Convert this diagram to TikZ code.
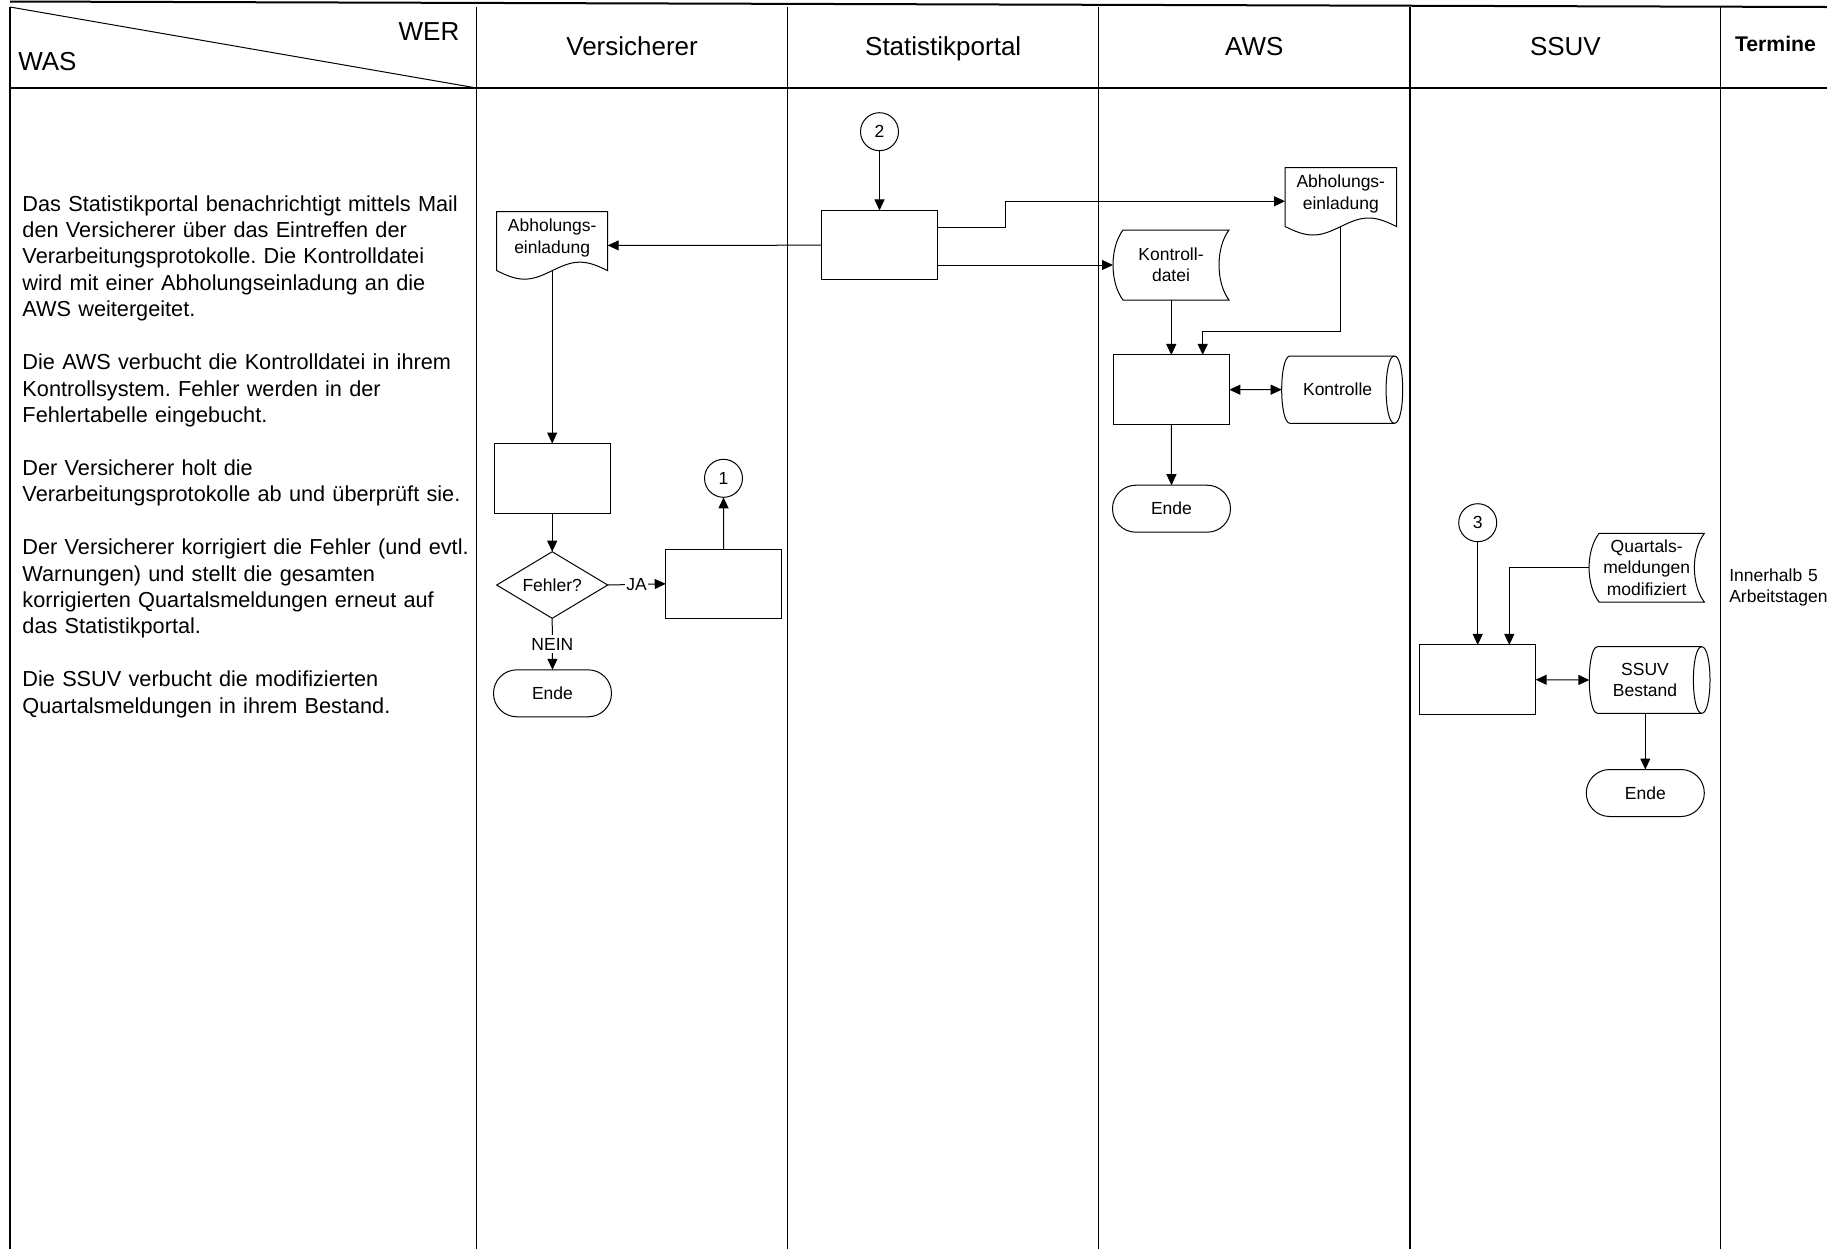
\documentclass[tikz,border=0pt]{standalone}
\usepackage{fontspec}
\setmainfont{Liberation Sans}
\usetikzlibrary{shapes.geometric,arrows.meta,calc}
\frenchspacing

\begin{document}
\begin{tikzpicture}[x=0.5pt,y=-0.5pt,
  every node/.style={inner sep=0pt, outer sep=0pt},
  small/.style={font=\fontsize{8.75}{10.7}\selectfont, align=center},
  head/.style={font=\fontsize{13}{15}\selectfont},
  body/.style={font=\fontsize{10.85}{13.2}\selectfont, text width=240pt, align=left},
  frame/.style={line width=0.6pt},
  edge/.style={draw, line width=0.5pt},
  proc/.style={edge, rectangle, minimum width=58pt, minimum height=34.75pt},
  conn/.style={edge, circle, minimum size=19pt, small},
  term/.style={edge, rectangle, rounded corners=11.7pt, minimum width=59pt, minimum height=23.5pt, small},
  decide/.style={edge, diamond, aspect=1.667, minimum width=55.5pt, minimum height=33.3pt, small},
  ghost/.style={rectangle, small},
  arr/.style={line width=0.5pt, -{Triangle[length=5.5pt,width=5pt]}},
  dbl/.style={line width=0.5pt, {Triangle[length=5.5pt,width=5pt]}-{Triangle[length=5.5pt,width=5pt]}}
]
\useasboundingbox (0,0) rectangle (1827,1249);

% ---------- table frame ----------
\draw[line width=1pt] (10,1.5) -- (1827,7);
\draw[line width=1pt] (10,88) -- (1827,88);
\draw[line width=0.5pt] (10,7) -- (476.6,88);
\foreach \cx in {10,476.6,787.7,1098.8,1409.9,1720.5}
  \draw[frame] (\cx,7) -- (\cx,1249);

% ---------- header ----------
\node[head, anchor=base east] (wer) at (459.3,40) {WER};
\node[head, anchor=base west] (was) at (18.3,70.5) {WAS};
\node[head, anchor=base] (hV) at (632.1,55) {Versicherer};
\node[head, anchor=base] (hS) at (943.2,55) {Statistikportal};
\node[head, anchor=base] (hA) at (1254.3,55) {AWS};
\node[head, anchor=base] (hU) at (1565.4,55) {SSUV};
\node[font=\bfseries\fontsize{10.6}{12}\selectfont, anchor=base west] (hT) at (1735,51.5) {Termine};

% ---------- description column ----------
\node[body, anchor=base west] (p1) at (22.5,211) {Das Statistikportal benachrichtigt mittels Mail\\den Versicherer über das Eintreffen der\\Verarbeitungsprotokolle. Die Kontrolldatei\\wird mit einer Abholungseinladung an die\\AWS weitergeitet.};
\node[body, anchor=base west] (p2) at (22.5,369.6) {Die AWS verbucht die Kontrolldatei in ihrem\\Kontrollsystem. Fehler werden in der\\Fehlertabelle eingebucht.};
\node[body, anchor=base west] (p3) at (22.5,475.3) {Der Versicherer holt die\\Verarbeitungsprotokolle ab und überprüft sie.};
\node[body, anchor=base west] (p4) at (22.5,554.6) {Der Versicherer korrigiert die Fehler (und evtl.\\Warnungen) und stellt die gesamten\\korrigierten Quartalsmeldungen erneut auf\\das Statistikportal.};
\node[body, anchor=base west] (p5) at (22.5,686.7) {Die SSUV verbucht die modifizierten\\Quartalsmeldungen in ihrem Bestand.};

% ---------- Statistikportal ----------
\node[conn] (c2) at (879.5,131.7) {2};
\node[proc] (sbox) at (879.5,245.2) {};

% ---------- Versicherer ----------
\node[ghost, minimum width=55.5pt, minimum height=33.75pt] (docV) at (552.2,245.4) {};
\draw[line width=0.5pt] (docV.north west) -- (docV.north east) -- ([yshift=4.25pt]docV.south east)
  sin ++(-27.75,-8.5) cos ++(-27.75,8.5) sin ++(-27.75,8.5) cos ++(-27.75,-8.5) -- cycle;
\node[small] (docVt) at ([yshift=3.7pt]docV.center) {Abholungs-\\einladung};
\node[proc] (vbox) at (552.2,478.3) {};
\node[decide] (dV) at (552.2,585) {Fehler?};
\node[proc] (rbox) at (723.7,583.8) {};
\node[conn] (c1) at (723.5,478.3) {1};
\node[term] (eV) at (552.5,693.3) {Ende};

% ---------- AWS ----------
\node[ghost, minimum width=55.75pt, minimum height=33.75pt] (docA) at (1340.8,201.25) {};
\draw[line width=0.5pt] (docA.north west) -- (docA.north east) -- ([yshift=4.25pt]docA.south east)
  sin ++(-27.875,-8.5) cos ++(-27.875,8.5) sin ++(-27.875,8.5) cos ++(-27.875,-8.5) -- cycle;
\node[small] (docAt) at ([yshift=3.7pt]docA.center) {Abholungs-\\einladung};

\node[ghost, minimum width=58pt, minimum height=35pt] (kd) at (1171,265) {Kontroll-\\datei};
\draw[line width=0.5pt] ([xshift=5pt]kd.north west) -- (kd.north east)
  .. controls +(-13.3,17.5) and +(-13.3,-17.5) .. (kd.south east)
  -- ([xshift=5pt]kd.south west)
  .. controls +(-13.3,-17.5) and +(-13.3,17.5) .. ([xshift=5pt]kd.north west);

\node[proc] (abox) at (1171.3,389.7) {};

\node[ghost, minimum width=60.5pt, minimum height=33.65pt] (ko) at (1342.2,389.65) {};
\draw[line width=0.5pt] ([xshift=4.15pt]ko.north west) -- ([xshift=-4.15pt]ko.north east)
  .. controls +(11.07,0) and +(11.07,0) .. ([xshift=-4.15pt]ko.south east)
  -- ([xshift=4.15pt]ko.south west)
  .. controls +(-11.07,0) and +(-11.07,0) .. ([xshift=4.15pt]ko.north west);
\draw[line width=0.5pt] ([xshift=-4.15pt]ko.north east)
  .. controls +(-11.07,0) and +(-11.07,0) .. ([xshift=-4.15pt]ko.south east);
\node[small] (kot) at ([xshift=-2.3pt]ko.center) {Kontrolle};

\node[term] (eA) at (1171.5,508.7) {Ende};

% ---------- SSUV ----------
\node[conn] (c3) at (1477.7,522.7) {3};
\node[ghost, minimum width=57.65pt, minimum height=34.35pt] (qm) at (1646.7,567.7) {Quartals-\\meldungen\\modifiziert};
\draw[line width=0.5pt] ([xshift=5pt]qm.north west) -- (qm.north east)
  .. controls +(-13.3,17.2) and +(-13.3,-17.2) .. (qm.south east)
  -- ([xshift=5pt]qm.south west)
  .. controls +(-13.3,-17.2) and +(-13.3,17.2) .. ([xshift=5pt]qm.north west);

\node[proc] (sbx) at (1477.7,679.7) {};

\node[ghost, minimum width=60.35pt, minimum height=33.3pt] (sb) at (1649.65,680) {};
\draw[line width=0.5pt] ([xshift=4.15pt]sb.north west) -- ([xshift=-4.15pt]sb.north east)
  .. controls +(11.07,0) and +(11.07,0) .. ([xshift=-4.15pt]sb.south east)
  -- ([xshift=4.15pt]sb.south west)
  .. controls +(-11.07,0) and +(-11.07,0) .. ([xshift=4.15pt]sb.north west);
\draw[line width=0.5pt] ([xshift=-4.15pt]sb.north east)
  .. controls +(-11.07,0) and +(-11.07,0) .. ([xshift=-4.15pt]sb.south east);
\node[small] (sbt) at ([xshift=-2.3pt]sb.center) {SSUV\\Bestand};

\node[term] (eS) at (1645.3,793) {Ende};

% ---------- Termine ----------
\node[small, text width=80pt, align=left, anchor=base west] (tt) at (1729.3,581) {Innerhalb 5\\Arbeitstagen};

% ---------- connectors ----------
\draw[arr] (c2) -- (sbox);
\draw[arr] (sbox.west) -- (docV.east);
\draw[arr] ([yshift=8.75pt]sbox.east) -- ++(68,0) |- (docA.west);
\draw[arr] (kd.west -| sbox.east) -- (kd.west);

\draw[arr] ([yshift=4.25pt]docV.south) -- (vbox.north);
\draw[arr] (vbox.south) -- (dV.north);
\draw[arr] (dV.east) -- node[small, fill=white, inner xsep=0.6pt] {JA} (rbox.west);
\draw[arr] (rbox.north) -- (c1.south);
\draw[arr] (dV.south) -- node[small, fill=white, inner sep=1.5pt] {NEIN} (eV.north);

\draw[arr] (abox.north |- kd.south) -- (abox.north);
\draw[arr] ([yshift=4.25pt]docA.south) |- ([xshift=15.7pt,yshift=11.65pt]abox.north) -- ([xshift=15.7pt]abox.north);
\draw[dbl] (abox.east) -- (ko.west);
\draw[arr] (abox.south) -- (eA.north);

\draw[arr] (c3.south) -- (sbx.north);
\draw[arr] (qm.west) -| ([xshift=15.8pt]sbx.north);
\draw[dbl] (sbx.east) -- (sb.west);
\draw[arr] (eS.north |- sb.south) -- (eS.north);
\end{tikzpicture}
\end{document}
